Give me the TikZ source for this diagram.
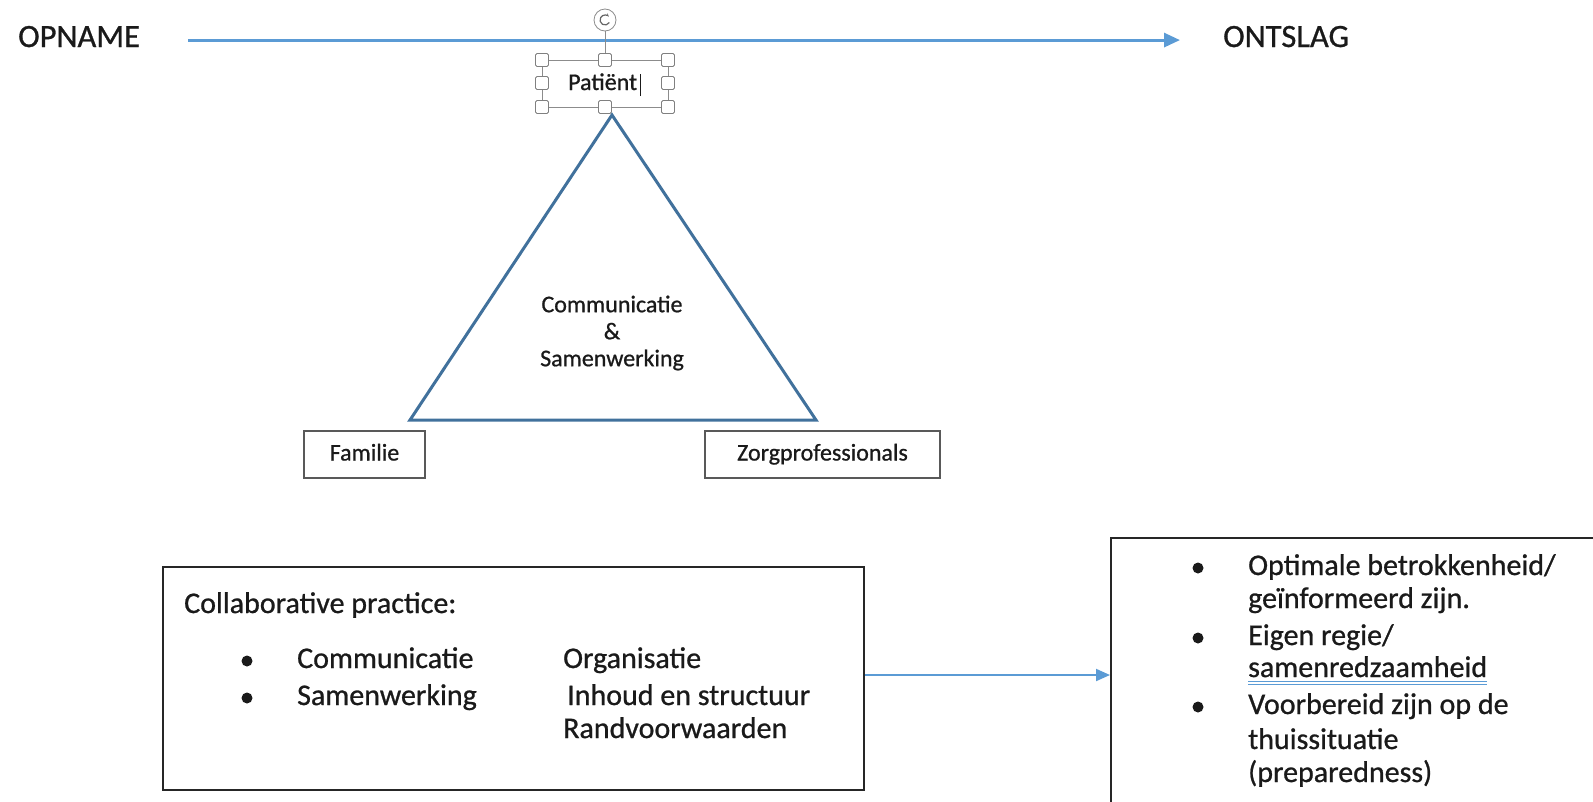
\documentclass[tikz,border=0pt]{standalone}
\usepackage{fontspec}
\setmainfont{Carlito}[FakeBold=0.8]
\usetikzlibrary{arrows.meta,positioning}

\definecolor{flowblue}{HTML}{5B9BD5}
\definecolor{triblue}{HTML}{41719C}
\definecolor{ink}{HTML}{1A1A1A}

\tikzstyle{phase}=[anchor=base west, inner sep=0pt, text=ink, font=\fontsize{32.5}{38}\selectfont]
\tikzstyle{party}=[draw=black!65, line width=1.5pt, minimum height=47pt, inner sep=0pt, text height=17pt, text depth=5pt, text=ink, font=\fontsize{24}{28}\selectfont]
\tikzstyle{item}=[anchor=base west, inner sep=0pt, text=ink, font=\fontsize{30}{34}\selectfont]
\tikzstyle{frame}=[draw=black!85, line width=2pt, inner sep=0pt]
\tikzstyle{handle}=[draw=black!50, fill=white, line width=0.8pt, rounded corners=1.5pt, minimum size=13pt, inner sep=0pt]
\tikzstyle{flow}=[draw=flowblue, line width=3pt, -{Triangle[length=16pt,width=14pt]}]

\begin{document}
\begin{tikzpicture}[x=1pt, y=-1pt]
\clip (0,0) rectangle (1593,801);

% time line
\node[phase] (opname) at (18,47) {OPNAME};
\node[phase] (ontslag) at (1223,47) {ONTSLAG};
\draw[flow, shorten <=48pt, shorten >=43pt] ([yshift=-3.5pt]opname.east) -- ([yshift=-3.5pt]ontslag.west);

% selected text box
\node[anchor=base west, inner sep=0pt, text=ink, font=\fontsize{24}{28}\selectfont] (patient) at (568,90) {Patiënt};
\draw[black!45, line width=0.8pt] (542,60) rectangle (668,107);
\draw[black!45, line width=0.8pt] (605,31) -- (605,60);
\node[circle, draw=black!45, fill=white, line width=0.8pt, minimum size=22pt, inner sep=0pt] (rotate) at (605,20) {};
\draw[black!60, line width=1.2pt, -{Stealth[length=3.5pt]}] (rotate.center) ++(30:5) arc (30:320:5);
\foreach \hx/\hy in {542/60,605/60,668/60,542/83,668/83,542/107,605/107,668/107}
  \node[handle] (h-\hx-\hy) at (\hx,\hy) {};
\draw[ink, line width=1pt] ([xshift=3pt,yshift=-6pt]patient.base east) -- ++(0,-22);

% triangle
\coordinate (apex) at (612,115);
\coordinate (baseL) at (410,420);
\coordinate (baseR) at (816,420);
\draw[triblue, line width=3pt] (apex) -- (baseL) -- (baseR) -- cycle;
\node[align=center, text=ink, font=\fontsize{24}{27}\selectfont] (core) at (612,333) {Communicatie\\\&\\Samenwerking};

\node[party, minimum width=121pt] (familie) at (364.5,454.5) {Familie};
\node[party, minimum width=235pt] (zorg) at (822.5,454.5) {Zorgprofessionals};

% collaborative practice
\node[frame, minimum width=701pt, minimum height=223pt] (collab) at (513.5,678.5) {};
\node[item] (cp) at (184,613) {Collaborative practice:};
\fill[ink] (247,661) circle (5.5pt);
\fill[ink] (247,698) circle (5.5pt);
\node[item] (c1) at (297,668) {Communicatie};
\node[item] (c2) at (297,705) {Samenwerking};
\node[item] (o1) at (563,668) {Organisatie};
\node[item] (o2) at (567,705) {Inhoud en structuur};
\node[item] (o3) at (563,738) {Randvoorwaarden};

% outcome
\node[frame, minimum width=500pt, minimum height=274pt, anchor=north west] (outcome) at (1110,537) {};
\draw[flow, line width=2pt, -{Triangle[length=14pt,width=12pt]}] (collab.east |- outcome.west) -- (outcome.west);
\fill[ink] (1198,568) circle (5.5pt);
\fill[ink] (1198,638) circle (5.5pt);
\fill[ink] (1198,707) circle (5.5pt);
\node[item] (r1) at (1248,575) {Optimale betrokkenheid/};
\node[item] (r2) at (1248,608) {geïnformeerd zijn.};
\node[item] (r3) at (1248,645) {Eigen regie/};
\node[item] (r4) at (1248,677) {samenredzaamheid};
\node[item] (r5) at (1248,714) {Voorbereid zijn op de};
\node[item] (r6) at (1248,749) {thuissituatie};
\node[item] (r7) at (1248,782) {(preparedness)};
\draw[flowblue, line width=1.1pt] ([yshift=-4.5pt]r4.base west) -- ([yshift=-4.5pt]r4.base east);
\draw[flowblue, line width=1.1pt] ([yshift=-7.5pt]r4.base west) -- ([yshift=-7.5pt]r4.base east);
\end{tikzpicture}
\end{document}
